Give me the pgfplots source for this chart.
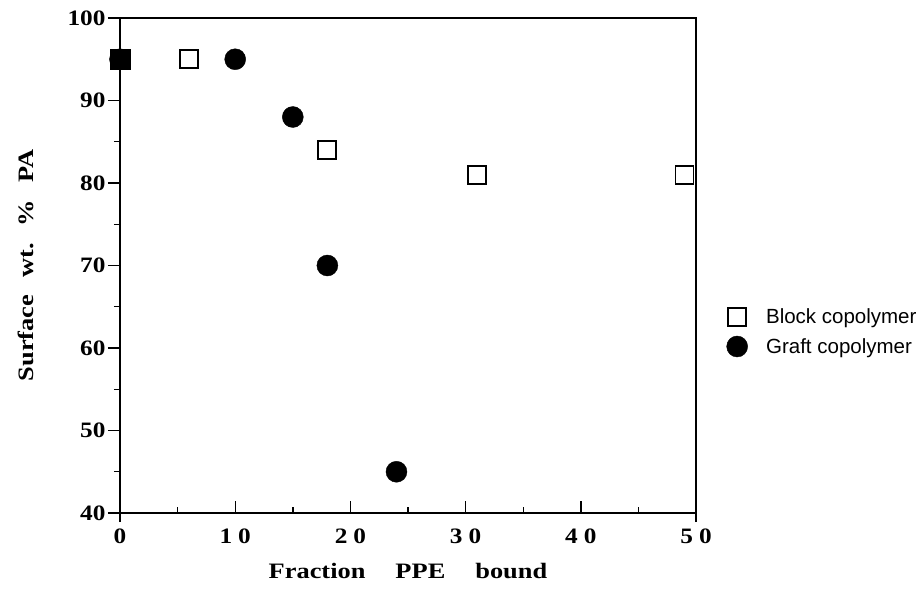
\documentclass[border=0pt]{standalone}
\usepackage{fontspec}
\setmainfont{Liberation Serif}
\newfontfamily\labfont[FakeStretch=1.2]{Liberation Serif}
\newfontfamily\tickfont[FakeStretch=1.15]{Liberation Serif}
\newfontfamily\legfont{Liberation Sans}
\usepackage{pgfplots}
\pgfplotsset{compat=1.18}
\begin{document}
\begin{tikzpicture}
\begin{axis}[
  scale only axis, width=576pt, height=495pt,
  xmin=0, xmax=50, ymin=40, ymax=100,
  xtick={0,10,...,50},
  xticklabels={0,1\hspace{6pt}0,2\hspace{6pt}0,3\hspace{6pt}0,4\hspace{6pt}0,5\hspace{6pt}0},
  extra x ticks={0,50}, extra x tick labels={},
  extra x tick style={tick align=outside, major tick length=9pt},
  ytick={40,50,...,100},
  minor xtick={5,15,...,45}, minor ytick={45,55,...,95},
  tick pos=left,
  xtick align=inside, ytick align=outside,
  major tick length=12pt, minor tick length=6pt,
  every tick/.style={black, line width=1.4pt},
  axis line style={line width=1.6pt},
  /pgf/number format/assume math mode=true,
  ticklabel style={font=\tickfont\fontsize{22}{26}\selectfont\bfseries},
  xticklabel style={yshift=-12pt},
  yticklabel style={xshift=1pt},
  label style={font=\labfont\fontsize{22}{26}\selectfont\bfseries},
  xlabel={Fraction\hspace{30pt}PPE\hspace{30pt}bound},
  ylabel={Surface\hspace{17pt}wt.\hspace{17pt}\%\hspace{17pt}PA},
  xlabel style={at={(axis description cs:0.5,-0.118)}, anchor=center},
  ylabel style={at={(axis description cs:-0.163,0.5)}, anchor=center},
  clip=false,
  legend style={at={(axis description cs:1,0.366)}, anchor=west, xshift=30pt,
    draw=none, fill=none, inner sep=0pt, row sep=9pt,
    font=\legfont\fontsize{20.5}{24}\selectfont},
  legend cell align=left,
  legend image code/.code={\path (-10pt,0pt) (26pt,0pt); \draw[#1] plot coordinates {(0pt,0pt)};},
]
\addplot[only marks, mark=square*, mark size=9pt, line width=1.9pt, draw=black, fill=white]
  coordinates {(0,95) (6,95) (18,84) (31,81) (49,81)};
\addlegendentry{Block copolymer}
\addplot[only marks, mark=*, mark size=10.5pt, draw=black, fill=black]
  coordinates {(0,95) (10,95) (15,88) (18,70) (24,45)};
\addlegendentry{Graft copolymer}
\addplot[only marks, mark=square*, mark size=9.9pt, draw=black, fill=black, forget plot]
  coordinates {(0,95)};
\coordinate (bl) at (rel axis cs:0,0);
\coordinate (tr) at (rel axis cs:1,1);
\end{axis}
\pgfresetboundingbox
\path[use as bounding box] ([xshift=-120pt,yshift=-87pt]bl) rectangle ([xshift=223pt,yshift=18pt]tr);
\end{tikzpicture}
\end{document}
